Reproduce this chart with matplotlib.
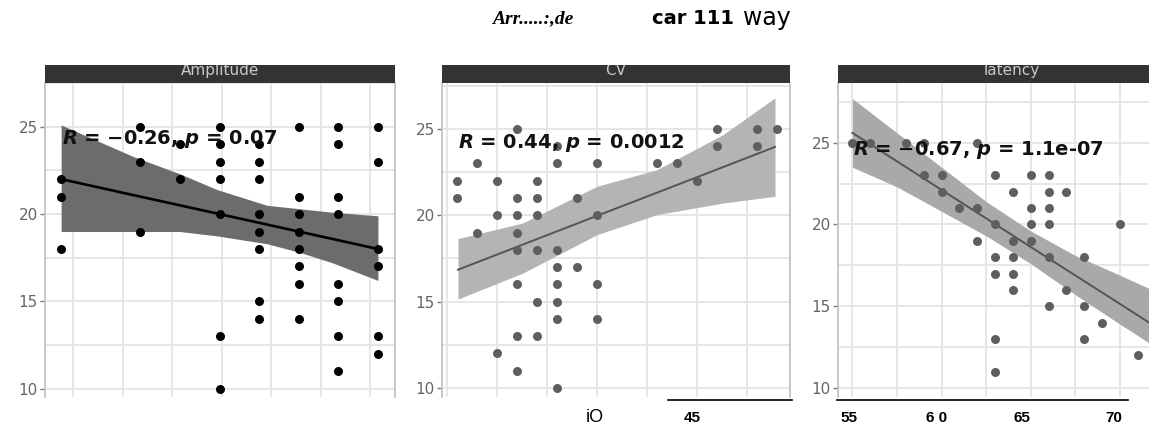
import matplotlib
matplotlib.use('Agg')
import matplotlib.pyplot as plt
from matplotlib.lines import Line2D
import numpy as np

W, H = 1149, 428

# Amplitude panel: x of each column of points and the y values in it
amp_cols = [0.76, 2.36, 3.16, 3.96, 4.76, 5.56, 6.36, 7.16]
amp_vals = [[22, 21, 18], [25, 23, 19], [24, 22],
            [25, 24, 23, 22, 20, 13, 10],
            [24, 23, 22, 20, 19, 18, 15, 14],
            [25, 21, 20, 19, 18, 17, 16, 14],
            [25, 24, 21, 20, 16, 15, 13, 11],
            [25, 23, 18, 17, 13, 12]]
amp_fit_x = [0.76, 2.21, 3.16, 3.91, 4.92, 5.59, 6.25, 7.16]
amp_fit_y = [22.0, 21.09, 20.5, 20.03, 19.4, 18.98, 18.57, 18.0]
amp_fit_hi = [25.1, 23.3, 22.3, 21.4, 20.5, 20.3, 20.1, 19.9]
amp_fit_lo = [19.0, 19.0, 19.0, 18.75, 18.3, 17.8, 17.2, 16.2]

# CV panel
cv_cols = [0.2, 0.6, 1.0, 1.4, 1.8, 2.2, 2.6, 3.0, 4.2, 4.6, 5.0, 5.4, 6.2, 6.6]
cv_vals = [[22, 21], [23, 19], [22, 20, 12],
           [25, 21, 20, 19, 18, 16, 13, 11],
           [22, 21, 20, 18, 15, 13],
           [24, 23, 18, 17, 16, 15, 14, 10],
           [21, 17], [23, 20, 16, 14], [23], [23], [22],
           [25, 24], [25, 24], [25]]
cv_fit_x = [0.22, 1.52, 3.0, 4.2, 5.52, 6.56]
cv_fit_y = [16.85, 18.31, 19.97, 21.31, 22.79, 23.96]
cv_fit_hi = [18.65, 19.56, 21.68, 22.64, 24.67, 26.8]
cv_fit_lo = [15.15, 16.66, 18.88, 20.04, 20.71, 21.1]

# latency panel
lat_cols = [0.0, 0.4, 1.2, 1.6, 2.0, 2.4, 2.8, 3.2, 3.6, 4.0, 4.4, 4.8,
            5.2, 5.6, 6.0, 6.4, 6.8]
lat_vals = [[25], [25], [25], [25, 23], [23, 22], [21], [25, 21, 19],
            [23, 20, 18, 17, 13, 11], [22, 19, 18, 17, 16],
            [23, 21, 20, 19], [23, 22, 21, 20, 18, 15], [22, 16],
            [18, 15, 13], [14], [20], [12], [13]]
lat_fit_x = [0.0, 1.0, 2.0, 3.0, 4.0, 5.0, 6.0, 6.8]
lat_fit_y = [25.6, 23.86, 22.11, 20.37, 18.62, 16.88, 15.14, 13.74]
lat_fit_hi = [27.7, 25.6, 23.5, 21.4, 19.6, 18.1, 16.9, 15.9]
lat_fit_lo = [23.5, 22.3, 20.8, 19.3, 17.6, 15.7, 13.9, 12.5]

strip_labels = ['Amplitude', 'CV', 'latency']
stats = [r'$R$ = −0.26, $p$ = 0.07', r'$R$ = 0.44, $p$ = 0.0012',
         r'$R$ = −0.67, $p$ = 1.1e-07']

plt.rcParams['mathtext.fontset'] = 'custom'
plt.rcParams['mathtext.it'] = 'DejaVu Sans:italic:bold'
plt.rcParams['mathtext.rm'] = 'DejaVu Sans:bold'

fig = plt.figure(figsize=(W / 100, H / 100), dpi=100)


def px_axes(l, t, r, b):
    return fig.add_axes([l / W, 1 - b / H, (r - l) / W, (b - t) / H])


panels = [
    dict(box=(45, 83, 395, 397), xlim=(0.434, 7.505), ylim=(9.53, 25.83),
         xt=range(1, 8), cols=amp_cols, vals=amp_vals,
         fit=(amp_fit_x, amp_fit_y, amp_fit_lo, amp_fit_hi),
         pt='black', ln='black', band='#6c6c6c', lw=1.9,
         txt=(0.78, 24.27)),
    dict(box=(442, 83, 790, 397), xlim=(-0.1, 6.86), ylim=(9.48, 27.66),
         xt=range(0, 7), cols=cv_cols, vals=cv_vals,
         fit=(cv_fit_x, cv_fit_y, cv_fit_lo, cv_fit_hi),
         pt='#5e5e5e', ln='#555555', band='#b4b4b4', lw=1.4,
         txt=(0.22, 24.19)),
    dict(box=(838, 83, 1186, 397), xlim=(-0.323, 7.48), ylim=(9.45, 28.65),
         xt=range(0, 8), cols=lat_cols, vals=lat_vals,
         fit=(lat_fit_x, lat_fit_y, lat_fit_lo, lat_fit_hi),
         pt='#5e5e5e', ln='#555555', band='#a9a9a9', lw=1.4,
         txt=(0.01, 24.55)),
]

for p, lab, st in zip(panels, strip_labels, stats):
    l, t, r, b = p['box']
    ax = px_axes(l, t, r, b)
    ax.set_xlim(*p['xlim'])
    ax.set_ylim(*p['ylim'])
    ax.set_xticks(list(p['xt']))
    ax.set_yticks([10, 15, 20, 25])
    ax.set_yticks([12.5, 17.5, 22.5, 27.5], minor=True)
    ax.tick_params(axis='x', length=0, labelbottom=False)
    ax.tick_params(axis='y', which='major', length=3.5, width=1, color='#777777',
                   labelsize=11, labelcolor='#666666', pad=1.5)
    ax.tick_params(axis='y', which='minor', length=0)
    ax.grid(True, which='both', color='#e4e4e4', linewidth=1.3)
    ax.set_axisbelow(True)
    for s in ['top', 'bottom']:
        ax.spines[s].set_visible(False)
    for s in ['left', 'right']:
        ax.spines[s].set_color('#c4c4c4')
        ax.spines[s].set_linewidth(1.3)

    fx, fy, flo, fhi = p['fit']
    ax.fill_between(fx, flo, fhi, color=p['band'], linewidth=0, zorder=2)
    ax.plot(fx, fy, color=p['ln'], lw=p['lw'], zorder=3)

    xs = [c for c, v in zip(p['cols'], p['vals']) for _ in v]
    ys = [y for v in p['vals'] for y in v]
    ax.scatter(xs, ys, s=42, color=p['pt'], linewidths=0, zorder=4)

    ax.text(p['txt'][0], p['txt'][1], st, fontsize=14, fontweight='bold',
            color='#111111', va='center', ha='left', zorder=5)

    sax = px_axes(l, 65, r, 83)
    sax.set_facecolor('#333333')
    sax.set_xticks([])
    sax.set_yticks([])
    for s in sax.spines.values():
        s.set_visible(False)
    sax.text(0.5, 0.42, lab, transform=sax.transAxes, ha='center',
             va='baseline', fontsize=11, color='#c8c8c8', clip_on=True)

# stray text and rules around the figure
fig.text(492 / W, 1 - 19 / H, 'Arr.....:,de', family='Liberation Serif',
         style='italic', weight='bold', fontsize=14, va='center')
fig.text(652 / W, 1 - 18 / H, 'car 111', family=['Liberation Sans Narrow', 'DejaVu Sans'],
         weight='bold', fontsize=14, va='center')
fig.text(743 / W, 1 - 18 / H, 'way', family='DejaVu Sans',
         fontsize=17, va='center')

bottom_labels = ['iO', '45', '55', '6 0', '65', '70']
bottom_x = [586, 684, 840, 926, 1014, 1105]
for s, x in zip(bottom_labels, bottom_x):
    if s == 'iO':
        fig.text(x / W, 1 - 417 / H, s, family='Liberation Sans',
                 fontsize=13, va='center')
    else:
        fig.text(x / W, 1 - 418 / H, s, family='Liberation Sans',
                 weight='bold', fontsize=11, va='center')

for x0, x1 in [(668, 792), (837, 1128)]:
    fig.add_artist(Line2D([x0 / W, x1 / W], [1 - 400 / H, 1 - 400 / H],
                          transform=fig.transFigure, color='black', lw=1.2))

fig.savefig('out.png', dpi=100)
